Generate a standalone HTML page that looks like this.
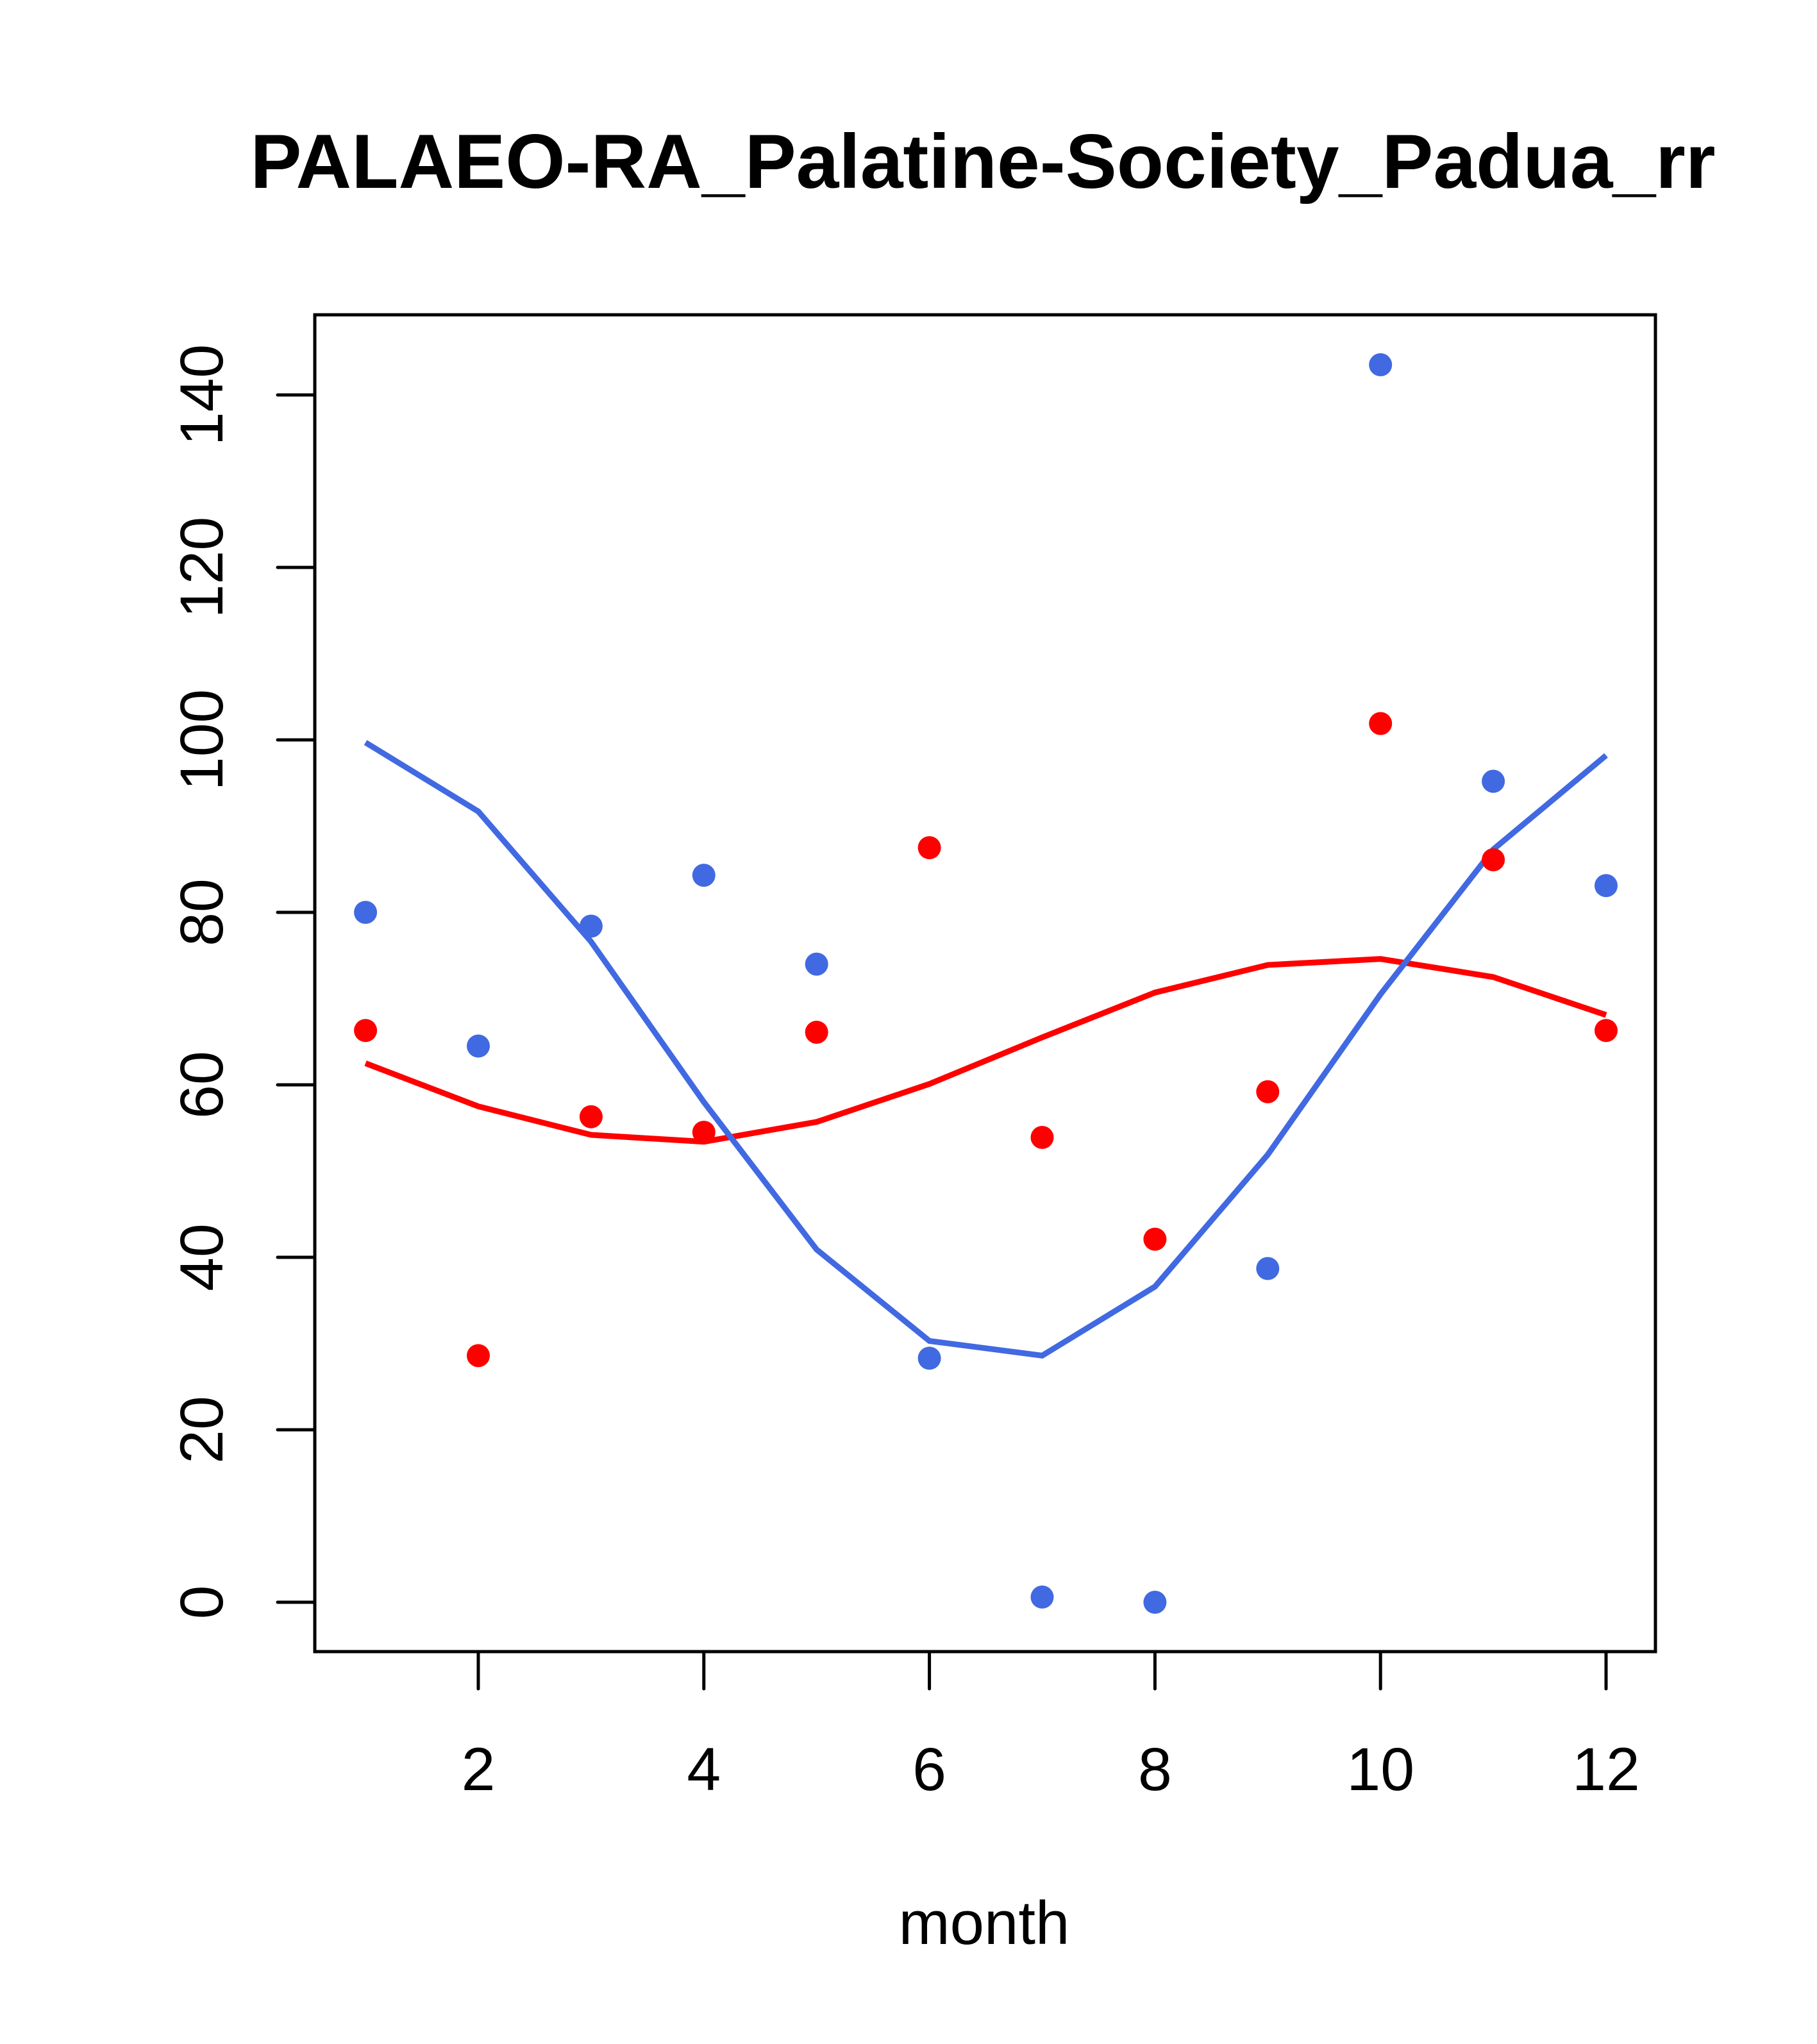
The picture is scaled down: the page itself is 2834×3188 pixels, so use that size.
<!DOCTYPE html>
<html><head><meta charset="utf-8"><style>html,body{margin:0;padding:0;background:#fff}svg{display:block}</style></head>
<body>
<svg width="2834" height="3188" viewBox="0 0 2834 3188" xmlns="http://www.w3.org/2000/svg" font-family="Liberation Sans, Arial, sans-serif">
<text x="1533" y="293" text-anchor="middle" font-size="120" font-weight="bold">PALAEO-RA_Palatine-Society_Padua_rr</text>
<rect x="491" y="491" width="2091" height="2085" fill="none" stroke="#000" stroke-width="5"/>
<g id="axes"></g>
<g id="marks"></g>
<text x="1535" y="3032" text-anchor="middle" font-size="96">month</text>
</svg>
<script>
const months=[1,2,3,4,5,6,7,8,9,10,11,12];
const bluePoints=[80,64.5,78.4,84.3,74,28.3,0.6,0,38.7,143.5,95.2,83.1];
const redPoints=[66.3,28.6,56.3,54.5,66.1,87.5,53.9,42.1,59.2,101.9,86.1,66.3];
const blueLine=[99.7,91.7,76.6,58,40.9,30.3,28.6,36.6,51.9,70.5,87.3,98.2];
const redLine=[62.5,57.5,54.2,53.4,55.7,60.1,65.5,70.7,73.9,74.6,72.5,68.1];
const xTicks=[2,4,6,8,10,12];
const yTicks=[0,20,40,60,80,100,120,140];
const NS="http://www.w3.org/2000/svg";
function X(m){return 746+(m-2)*175.9;}
function Y(v){return 2499-v*13.45;}
function mk(t,a,p){const e=document.createElementNS(NS,t);for(const k in a)e.setAttribute(k,a[k]);p.appendChild(e);return e;}
const axes=document.getElementById('axes'),marks=document.getElementById('marks');
xTicks.forEach(t=>{
 const l=mk('line',{x1:X(t),x2:X(t),y1:2576,y2:2634,stroke:'#000','stroke-width':5,'stroke-linecap':'round'},axes);
 
 
 const s=mk('text',{x:X(t),y:2792,'text-anchor':'middle','font-size':95},axes);s.textContent=t;
 
 
});
yTicks.forEach(t=>{
 const l=mk('line',{x1:433,x2:491,y1:Y(t),y2:Y(t),stroke:'#000','stroke-width':5,'stroke-linecap':'round'},axes);
 
 
 const s=mk('text',{x:0,y:0,'text-anchor':'middle','font-size':95,transform:`translate(347,${Y(t)}) rotate(-90)`},axes);s.textContent=t;
 
 
});
function line(vals,col,name){
 const p=mk('polyline',{points:months.map((m,i)=>X(m)+','+Y(vals[i])).join(' '),fill:'none',stroke:col,'stroke-width':9},marks);
 
 
}
function pts(vals,col,name){
 months.forEach((m,i)=>{
  const c=mk('circle',{cx:X(m),cy:Y(vals[i]),r:18,fill:col},marks);
  
  
 });
}
line(redLine,'#ff0000','red-line');
line(blueLine,'#4169e1','blue-line');
pts(redPoints,'#ff0000','red-point');
pts(bluePoints,'#4169e1','blue-point');
</script>
</body></html>
